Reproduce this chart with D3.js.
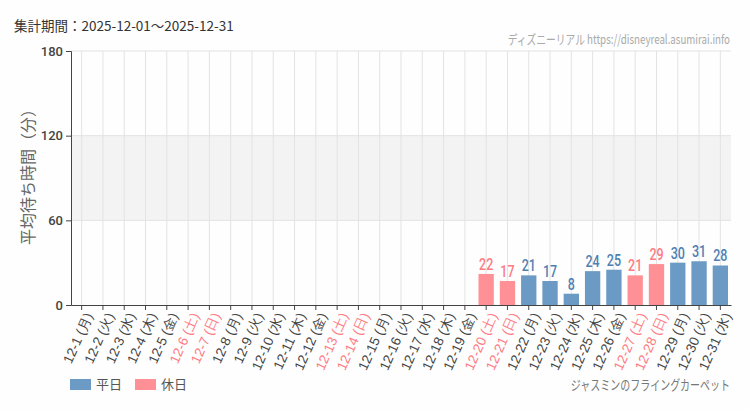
<!DOCTYPE html>
<html>
<head>
<meta charset="utf-8">
<script src="https://cdn.jsdelivr.net/npm/d3@7"></script>
<style>
  html, body { margin: 0; padding: 0; background: #fdfefd; }
  svg { display: block; font-family: "Noto Sans CJK JP", "Noto Sans", sans-serif; }
</style>
</head>
<body>
<div id="chart"></div>
<script>
const days = d3.range(1, 32).map(d => `12-${d}`);
const weekdays = ['月', '火', '水', '木', '金', '土', '日'];
const holidays = [6, 7, 13, 14, 20, 21, 27, 28];
const waits = [
  null, null, null, null, null, null, null, null, null, null,
  null, null, null, null, null, null, null, null, null, 22,
  17, 21, 17, 8, 24, 25, 21, 29, 30, 31, 28
];
const yTicks = [0, 60, 120, 180];

const blue = '#6b9ac4', pink = '#ff9196';
const blueText = '#4f7fb3', pinkText = '#ff7a83';

const width = 750, height = 410;
const margin = { top: 51, right: 19, bottom: 105, left: 71 };
const innerW = width - margin.left - margin.right;
const innerH = height - margin.top - margin.bottom;

const rows = days.map((d, i) => ({
  day: d,
  label: `${d} (${weekdays[i % 7]})`,
  holiday: holidays.includes(i + 1),
  value: waits[i]
}));

const svg = d3.select('#chart').append('svg')
  .attr('width', width)
  .attr('height', height);

const g = svg.append('g')
  .attr('transform', `translate(${margin.left},${margin.top})`);

const x = d3.scaleBand()
  .domain(days)
  .range([0, innerW])
  .paddingInner(0.28)
  .paddingOuter(0.14);

const y = d3.scaleLinear()
  .domain([0, 180])
  .range([innerH, 0]);

// band between 60 and 120
g.append('rect')
  .attr('x', 0)
  .attr('y', y(120))
  .attr('width', innerW)
  .attr('height', y(60) - y(120))
  .attr('fill', '#f3f3f3');

// grid
g.append('g')
  .selectAll('line')
  .data(days)
  .join('line')
  .attr('x1', d => x(d) + x.bandwidth() / 2)
  .attr('x2', d => x(d) + x.bandwidth() / 2)
  .attr('y1', 0)
  .attr('y2', innerH)
  .attr('stroke', '#e3e3e3');

g.append('g')
  .selectAll('line')
  .data(yTicks.filter(t => t > 0))
  .join('line')
  .attr('x1', 0)
  .attr('x2', innerW)
  .attr('y1', d => y(d))
  .attr('y2', d => y(d))
  .attr('stroke', '#e3e3e3');

// bars
const withData = rows.filter(d => d.value != null);

g.selectAll('.bar')
  .data(withData)
  .join('rect')
  .attr('class', 'bar')
  .attr('x', d => x(d.day))
  .attr('y', d => y(d.value))
  .attr('width', x.bandwidth())
  .attr('height', d => innerH - y(d.value))
  .attr('fill', d => d.holiday ? pink : blue);

// value labels, squeezed to look condensed
g.selectAll('.val')
  .data(withData)
  .join('text')
  .attr('class', 'val')
  .attr('transform', d => `translate(${x(d.day) + x.bandwidth() / 2},${y(d.value) - 4}) scale(0.78,1)`)
  .attr('text-anchor', 'middle')
  .attr('fill', d => d.holiday ? pinkText : blueText)
  .style('font-family', '"Roboto", sans-serif')
  .style('font-weight', 500)
  .style('font-size', '16px')
  .text(d => d.value);

// axes
const yAxis = g.append('g')
  .call(d3.axisLeft(y).tickValues(yTicks).tickSize(5).tickPadding(3));
yAxis.selectAll('text')
  .style('font-size', '13px')
  .style('font-family', '"Roboto", "Noto Sans", sans-serif')
  .style('font-weight', 500)
  .attr('fill', '#444');
yAxis.selectAll('line, path').attr('stroke', '#444');

const xAxis = g.append('g')
  .attr('transform', `translate(0,${innerH})`)
  .call(d3.axisBottom(x).tickSize(5).tickSizeOuter(0).tickFormat((d, i) => rows[i].label));
xAxis.selectAll('line, path').attr('stroke', '#444');
xAxis.selectAll('text')
  .attr('text-anchor', 'end')
  .attr('transform', 'rotate(-66)')
  .attr('dx', '-0.35em')
  .attr('dy', '0.5em')
  .attr('fill', (d, i) => rows[i].holiday ? pinkText : '#444')
  .style('font-size', '13.5px');

// y axis title
svg.append('text')
  .attr('transform', 'translate(34,173) rotate(-90)')
  .attr('text-anchor', 'middle')
  .attr('fill', '#666')
  .style('font-size', '16px')
  .text('平均待ち時間（分）');

// header
svg.append('text')
  .attr('x', 14)
  .attr('y', 31)
  .attr('fill', '#333')
  .style('font-size', '13.5px')
  .text('集計期間：2025-12-01〜2025-12-31');

svg.append('text')
  .attr('transform', 'translate(730,44) scale(0.75,1)')
  .attr('text-anchor', 'end')
  .attr('fill', '#aaa')
  .style('font-size', '13px')
  .text('ディズニーリアル https://disneyreal.asumirai.info');

// legend
const legendItems = [
  { name: '平日', color: blue },
  { name: '休日', color: pink }
];
const legend = svg.append('g')
  .attr('transform', 'translate(70,379)');
legend.selectAll('rect')
  .data(legendItems)
  .join('rect')
  .attr('x', (d, i) => i * 65)
  .attr('y', 0)
  .attr('width', 21)
  .attr('height', 11)
  .attr('fill', d => d.color);
legend.selectAll('text')
  .data(legendItems)
  .join('text')
  .attr('x', (d, i) => i * 65 + 26)
  .attr('y', 10)
  .attr('fill', '#555')
  .style('font-size', '13px')
  .text(d => d.name);

svg.append('text')
  .attr('transform', 'translate(730,390) scale(0.74,1)')
  .attr('text-anchor', 'end')
  .attr('fill', '#777')
  .style('font-size', '13.5px')
  .text('ジャスミンのフライングカーペット');
</script>
</body>
</html>
